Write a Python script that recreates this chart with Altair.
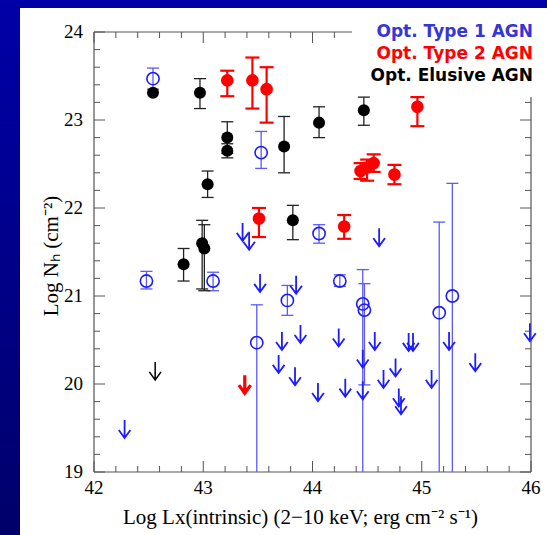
import altair as alt
import pandas as pd

# ---------------- data ----------------
# Optical Type 1 AGN (open blue circles) : x, y, lower error end, upper error end
t1_x  = [42.54, 43.53, 42.48, 43.09, 44.06, 44.25, 43.77, 43.49, 44.46, 44.475, 45.16, 45.28]
t1_y  = [23.47, 22.63, 21.17, 21.17, 21.71, 21.17, 20.95, 20.47, 20.91, 20.84, 20.81, 21.00]
t1_lo = [23.35, 22.45, 21.08, 21.06, 21.60, 21.11, 20.78, 18.00, 18.00, 19.99, 18.00, 18.00]
t1_hi = [23.59, 22.87, 21.28, 21.27, 21.81, 21.24, 21.12, 20.90, 21.30, 21.14, 21.84, 22.28]

# Optical Type 2 AGN (filled red circles)
t2_x  = [43.22, 43.45, 43.58, 43.51, 44.29, 44.96, 44.44, 44.50, 44.56, 44.75]
t2_y  = [23.45, 23.45, 23.35, 21.88, 21.79, 23.15, 22.42, 22.46, 22.51, 22.38]
t2_lo = [23.27, 23.13, 22.97, 21.67, 21.65, 22.93, 22.33, 22.31, 22.41, 22.27]
t2_hi = [23.56, 23.71, 23.60, 22.00, 21.92, 23.26, 22.51, 22.55, 22.61, 22.49]

# Optical Elusive AGN (filled black circles)
el_x  = [42.54, 42.97, 43.22, 43.22, 43.74, 43.04, 43.82, 42.82, 42.99, 43.01, 44.06, 44.47]
el_y  = [23.31, 23.31, 22.80, 22.65, 22.70, 22.27, 21.86, 21.36, 21.60, 21.54, 22.97, 23.11]
el_lo = [23.31, 23.13, 22.62, 22.57, 22.40, 22.12, 21.64, 21.17, 21.08, 21.06, 22.80, 22.94]
el_hi = [23.31, 23.47, 22.98, 22.73, 23.04, 22.42, 22.03, 21.54, 21.86, 21.81, 23.15, 23.26]

# Upper limits (arrows)
t1_lim_x = [43.36, 43.42, 43.52, 43.85, 44.61, 43.72, 43.89, 43.69, 43.84, 42.28,
            44.24, 44.57, 44.46, 44.88, 44.92, 45.25, 45.49, 44.76, 44.65, 45.09,
            44.30, 44.46, 44.79, 44.81, 44.05, 45.99]
t1_lim_y = [21.83, 21.73, 21.25, 21.23, 21.77, 20.59, 20.67, 20.33, 20.19, 19.59,
            20.63, 20.59, 20.39, 20.58, 20.58, 20.59, 20.35, 20.29, 20.16, 20.16,
            20.06, 20.03, 19.95, 19.86, 20.01, 20.69]
t2_lim_x = [43.38]
t2_lim_y = [20.10]
el_lim_x = [42.56]
el_lim_y = [20.25]

# Axis ticks / labels
x_major = [42, 43, 44, 45, 46]
x_minor = [42.2, 42.4, 42.6, 42.8, 43.2, 43.4, 43.6, 43.8,
           44.2, 44.4, 44.6, 44.8, 45.2, 45.4, 45.6, 45.8]
y_major = [19, 20, 21, 22, 23, 24]
y_minor = [19.2, 19.4, 19.6, 19.8, 20.2, 20.4, 20.6, 20.8, 21.2, 21.4, 21.6, 21.8,
           22.2, 22.4, 22.6, 22.8, 23.2, 23.4, 23.6, 23.8]

legend_labels = ["Opt. Type 1 AGN", "Opt. Type 2 AGN", "Opt. Elusive AGN"]

x_title = "Log Lx(intrinsic) (2\u221210 keV; erg cm\u207b\u00b2 s\u207b\u00b9)"
y_title = "Log N\u2095  (cm\u207b\u00b2)"

# ---------------- styling ----------------
W, H = 437, 440
PAD = {"left": 94, "top": 32, "right": 16, "bottom": 63}
FRAME = "#555555"
BLUE = "#1c1cff"
BLUE_ERR = "#5a5aff"
RED = "#ff0000"
BLACK = "#000000"
SERIF = "Liberation Serif"
ARROW = "M 0 0 L 0 2 M -0.65 1.1 L 0 2 L 0.65 1.1"

xs = alt.Scale(domain=[42, 46], nice=False, zero=False)
ys = alt.Scale(domain=[19, 24], nice=False, zero=False)


def X(f):
    return alt.X(f, type="quantitative", scale=xs, axis=None)


def Y(f):
    return alt.Y(f, type="quantitative", scale=ys, axis=None)


one = pd.DataFrame({"a": [0]})

# background: blue slide + white panel
grad = alt.LinearGradient(gradient="linear",
                          stops=[alt.GradientStop(color="#0000a8", offset=0),
                                 alt.GradientStop(color="#00006a", offset=1)],
                          x1=0, x2=0, y1=0, y2=1)
bg = alt.Chart(one).mark_rect(color=grad).encode(
    x=alt.value(-PAD["left"]), x2=alt.value(W + PAD["right"]),
    y=alt.value(-PAD["top"]), y2=alt.value(H + PAD["bottom"]))
panel = alt.Chart(one).mark_rect(color="white").encode(
    x=alt.value(20 - PAD["left"]), x2=alt.value(W + PAD["right"]),
    y=alt.value(8 - PAD["top"]), y2=alt.value(H + PAD["bottom"]))

# frame
frame_layers = [
    alt.Chart(one).mark_rule(color=FRAME, strokeWidth=1.2).encode(
        x=alt.value(0), x2=alt.value(W), y=alt.value(0)),
    alt.Chart(one).mark_rule(color=FRAME, strokeWidth=1.2).encode(
        x=alt.value(0), x2=alt.value(W), y=alt.value(H)),
    alt.Chart(one).mark_rule(color=FRAME, strokeWidth=1.2).encode(
        x=alt.value(0), y=alt.value(0), y2=alt.value(H)),
    alt.Chart(one).mark_rule(color=FRAME, strokeWidth=1.2).encode(
        x=alt.value(W), y=alt.value(0), y2=alt.value(H)),
]


# inward ticks on all four sides
def xticks(vals, length):
    d = pd.DataFrame({"v": vals})
    b = alt.Chart(d).mark_rule(color=FRAME, strokeWidth=1).encode(
        x=X("v"), y=alt.value(H), y2=alt.value(H - length))
    t = alt.Chart(d).mark_rule(color=FRAME, strokeWidth=1).encode(
        x=X("v"), y=alt.value(0), y2=alt.value(length))
    return [b, t]


def yticks(vals, length):
    d = pd.DataFrame({"v": vals})
    l = alt.Chart(d).mark_rule(color=FRAME, strokeWidth=1).encode(
        y=Y("v"), x=alt.value(0), x2=alt.value(length))
    r = alt.Chart(d).mark_rule(color=FRAME, strokeWidth=1).encode(
        y=Y("v"), x=alt.value(W), x2=alt.value(W - length))
    return [l, r]


tick_layers = xticks(x_major, 11) + xticks(x_minor, 6) + yticks(y_major, 11) + yticks(y_minor, 6)

# tick labels and axis titles
xlab = alt.Chart(pd.DataFrame({"v": x_major})).mark_text(
    font=SERIF, fontSize=19, color="black", align="center", baseline="top").encode(
    x=X("v"), y=alt.value(H + 7), text=alt.Text("v:Q", format="d"))
ylab = alt.Chart(pd.DataFrame({"v": y_major})).mark_text(
    font=SERIF, fontSize=19, color="black", align="right", baseline="middle").encode(
    y=Y("v"), x=alt.value(-11), text=alt.Text("v:Q", format="d"))
xtit = alt.Chart(pd.DataFrame({"t": [x_title]})).mark_text(
    font=SERIF, fontSize=21, color="black", align="center", baseline="alphabetic").encode(
    x=alt.value(W / 2 - 12), y=alt.value(H + 52), text="t:N")
ytit = alt.Chart(pd.DataFrame({"t": [y_title]})).mark_text(
    font=SERIF, fontSize=21, color="black", align="center", baseline="alphabetic",
    angle=270).encode(
    x=alt.value(-36), y=alt.value(H / 2 + 4), text="t:N")

# white legend box covering the frame corner
legend_box = alt.Chart(one).mark_rect(color="white").encode(
    x=alt.value(258), x2=alt.value(W + PAD["right"]),
    y=alt.value(-PAD["top"] + 8), y2=alt.value(65))


def series(xv, yv, lo, hi, err_color, err_w, cap_w, marker):
    df = pd.DataFrame({"x": xv, "y": yv, "lo": lo, "hi": hi})
    caps = pd.DataFrame({"x": [a for a, l, y in zip(xv, lo, yv) if l != y] +
                              [a for a, h, y in zip(xv, hi, yv) if h != y],
                         "c": [l for l, y in zip(lo, yv) if l != y] +
                              [h for h, y in zip(hi, yv) if h != y]})
    bars = alt.Chart(df).mark_rule(color=err_color, strokeWidth=err_w, clip=True).encode(
        x=X("x"), y=Y("lo"), y2=alt.Y2("hi"))
    capm = alt.Chart(caps).mark_tick(color=err_color, orient="horizontal", size=cap_w,
                                     thickness=err_w, opacity=1, clip=True).encode(
        x=X("x"), y=Y("c"))
    pts = alt.Chart(df).mark_point(**marker).encode(x=X("x"), y=Y("y"))
    return [bars, capm, pts]


def limits(xv, yv, color, sw):
    df = pd.DataFrame({"x": xv, "y": yv})
    return alt.Chart(df).mark_point(shape=ARROW, size=324, filled=False, color=color,
                                    strokeWidth=sw, opacity=1).encode(x=X("x"), y=Y("y"))


t1_layers = series(t1_x, t1_y, t1_lo, t1_hi, BLUE_ERR, 1.3, 12,
                   dict(shape="circle", filled=False, size=150, strokeWidth=1.6,
                        color=BLUE, opacity=1))
t2_layers = series(t2_x, t2_y, t2_lo, t2_hi, RED, 2.2, 14,
                   dict(shape="circle", filled=True, size=160, color=RED, opacity=1))
el_layers = series(el_x, el_y, el_lo, el_hi, "#222222", 1.3, 12,
                   dict(shape="circle", filled=True, size=145, color=BLACK, opacity=1))

lim_layers = [limits(t1_lim_x, t1_lim_y, BLUE, 1.8),
              limits(t2_lim_x, t2_lim_y, RED, 3.2),
              limits(el_lim_x, el_lim_y, BLACK, 1.5)]

leg_colors = ["#3535d8", RED, BLACK]
leg_layers = []
for i, (lab, col) in enumerate(zip(legend_labels, leg_colors)):
    leg_layers.append(
        alt.Chart(pd.DataFrame({"t": [lab]})).mark_text(
            font="DejaVu Sans", fontSize=17, fontWeight="bold", align="right",
            baseline="alphabetic", color=col).encode(
            text="t:N", x=alt.value(439), y=alt.value(5 + 22 * i)))

chart = alt.layer(
    bg, panel, *frame_layers, *tick_layers, legend_box, xlab, ylab, xtit, ytit,
    *t1_layers, *lim_layers, *t2_layers, *el_layers, *leg_layers
).properties(
    width=W, height=H,
    autosize=alt.AutoSizeParams(type="none"),
    padding=PAD,
    background="#00008a",
).configure_view(stroke=None)

chart.save("out.html", embed_options={"renderer": "svg", "actions": False})
